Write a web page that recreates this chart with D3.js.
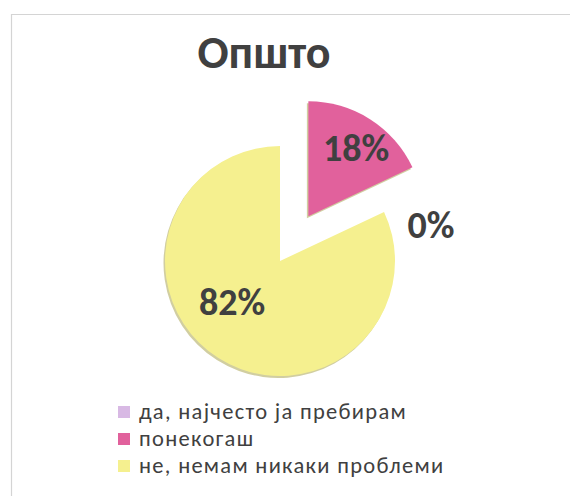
<!DOCTYPE html>
<html>
<head>
<meta charset="utf-8">
<script src="https://cdn.jsdelivr.net/npm/d3@7"></script>
<style>
  html, body { margin: 0; padding: 0; background: #fff; }
  svg { display: block; }
  text { font-family: Carlito, Lato, "Open Sans", sans-serif; fill: #404040; }
</style>
</head>
<body>
<svg id="chart" width="570" height="496"></svg>
<script>
// Survey answers and their shares (percent)
const categories = ["да, најчесто ја пребирам", "понекогаш", "не, немам никаки проблеми"];
const values = [0, 18, 82];
const percentLabels = ["0%", "18%", "82%"];
const colors = ["#d8b9e4", "#e1619c", "#f5f08f"];
const title = "Општо";

const svg = d3.select("#chart");

// frame
svg.append("path")
  .attr("d", "M11.5,496 L11.5,14.5 L570,14.5")
  .attr("fill", "none")
  .attr("stroke", "#d4d4d4")
  .attr("stroke-width", 1.2);

svg.append("text")
  .attr("x", 264)
  .attr("y", 68)
  .attr("text-anchor", "middle")
  .attr("font-size", 46)
  .attr("font-weight", "bold")
  .text(title);

const cx = 280, cy = 261, r = 115;
const explode = [0, 53, 0];

const pie = d3.pie().sort(null).value(d => d)(values);
const arc = d3.arc().innerRadius(0).outerRadius(r);

const g = svg.append("g").attr("transform", `translate(${cx},${cy})`);

function offset(d, i) {
  const mid = (d.startAngle + d.endAngle) / 2;
  return [explode[i] * Math.sin(mid), -explode[i] * Math.cos(mid)];
}

// soft rim under the slices
g.selectAll("path.rim")
  .data(pie.filter(d => d.value > 0))
  .enter().append("path")
  .attr("class", "rim")
  .attr("d", arc)
  .attr("fill", "#b3ae62")
  .attr("opacity", 0.6)
  .attr("transform", d => {
    const i = pie.indexOf(d);
    const [ox, oy] = offset(d, i);
    return `translate(${ox - 1.5},${oy + 2})`;
  });

g.selectAll("path.slice")
  .data(pie)
  .enter().append("path")
  .attr("class", "slice")
  .attr("d", arc)
  .attr("fill", (d, i) => colors[i])
  .attr("transform", (d, i) => {
    const [ox, oy] = offset(d, i);
    return `translate(${ox},${oy})`;
  });

// percentage labels
const labelPos = [
  [151, -36],
  [76, -113],
  [-48, 41]
];
g.selectAll("text.pct")
  .data(pie)
  .enter().append("text")
  .attr("class", "pct")
  .attr("x", (d, i) => labelPos[i][0])
  .attr("y", (d, i) => labelPos[i][1])
  .attr("text-anchor", "middle")
  .attr("dominant-baseline", "central")
  .attr("font-size", 38)
  .attr("font-weight", "bold")
  .text((d, i) => percentLabels[i]);

// legend
const legend = svg.append("g").attr("transform", "translate(118,411)");
const rows = legend.selectAll("g")
  .data(categories)
  .enter().append("g")
  .attr("transform", (d, i) => `translate(0,${i * 27})`);
rows.append("rect")
  .attr("x", 0).attr("y", -5)
  .attr("width", 12).attr("height", 12)
  .attr("fill", (d, i) => colors[i]);
rows.append("text")
  .attr("x", 21)
  .attr("y", 0)
  .attr("dominant-baseline", "central")
  .attr("font-size", 22.5)
  .attr("letter-spacing", 1.3)
  .text(d => d);
</script>
</body>
</html>
